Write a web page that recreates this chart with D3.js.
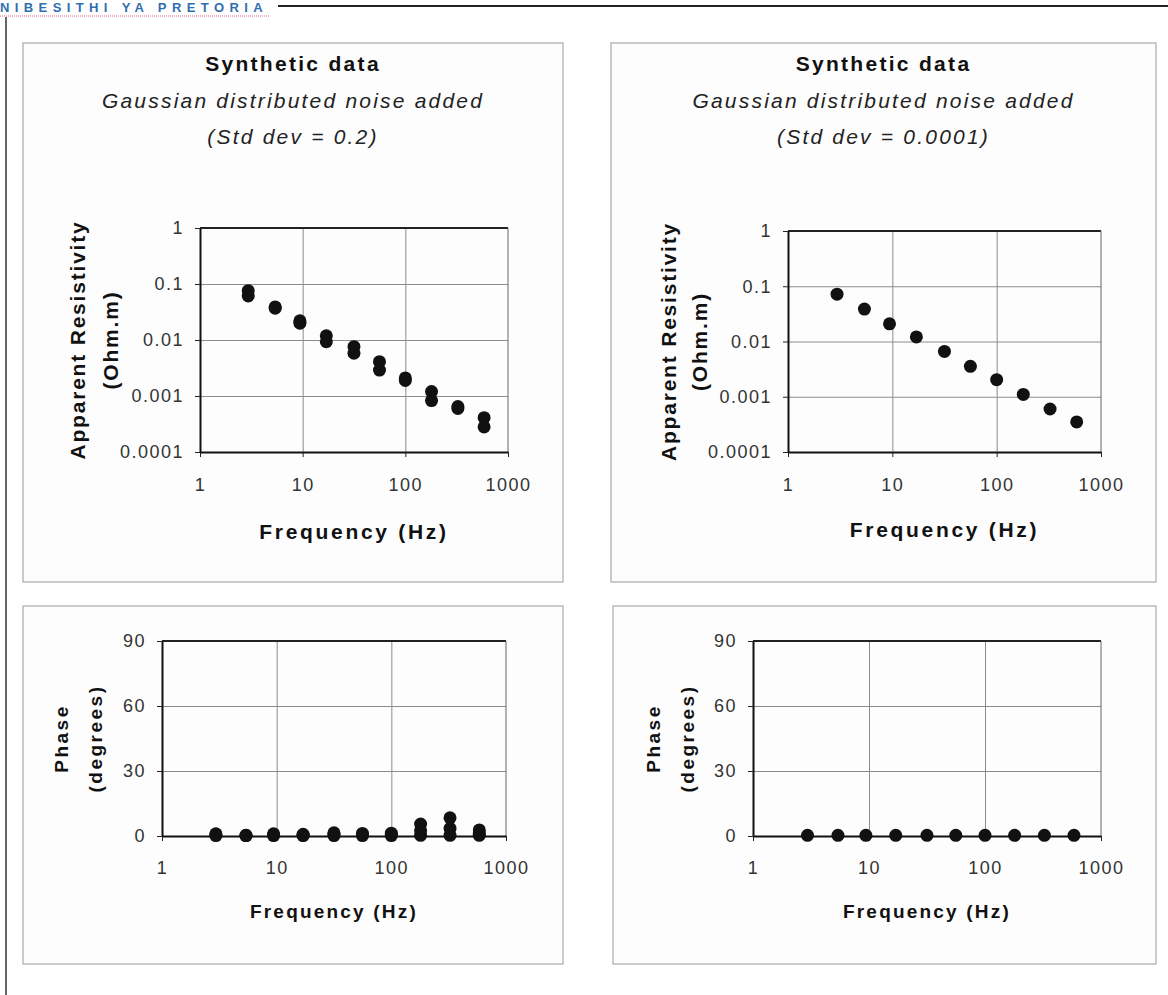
<!DOCTYPE html>
<html>
<head>
<meta charset="utf-8">
<script src="https://cdn.jsdelivr.net/npm/d3@7"></script>
<style>
  body { margin: 0; background: #fff; }
  svg { display: block; font-family: "Liberation Sans", Arial, sans-serif; }
</style>
</head>
<body>
<script>
// frequencies (Hz) of the synthetic soundings
var freqs = [2.95, 5.4, 9.4, 17, 31.6, 56, 100, 180, 325, 585];

// apparent resistivity, noisy case (two realisations visible as elongated dots)
var rhoNoisyA = [0.076, 0.039, 0.022, 0.0119, 0.0076, 0.0041, 0.0021, 0.0012, 0.00065, 0.00041];
var rhoNoisyB = [0.061, 0.037, 0.020, 0.0093, 0.0058, 0.0029, 0.0019, 0.00083, 0.0006, 0.00028];
// apparent resistivity, nearly noise free case
var rhoClean = [0.072, 0.0386, 0.0209, 0.0121, 0.0066, 0.00356, 0.00204, 0.0011, 0.0006, 0.00035];

// phase (degrees), noisy case
var phaseNoisyA = [1.0, 0.3, 1.0, 0.8, 1.5, 1.2, 1.3, 5.5, 8.4, 2.8];
var phaseNoisyB = [0.2, 0.2, 0.2, 0.2, 0.2, 0.2, 0.2, 0.3, 0.3, 0.3];
var phaseNoisyC = [0.6, 0.2, 0.5, 0.4, 0.8, 0.6, 0.7, 2.5, 3.5, 1.2];
// phase, nearly noise free case
var phaseClean = [0.3, 0.3, 0.3, 0.3, 0.3, 0.3, 0.3, 0.3, 0.3, 0.3];

// ticks
var xTicks = [1, 10, 100, 1000];
var xTickLabels = ["1", "10", "100", "1000"];
var rhoTicks = [1, 0.1, 0.01, 0.001, 0.0001];
var rhoTickLabels = ["1", "0.1", "0.01", "0.001", "0.0001"];
var phaseTicks = [0, 30, 60, 90];
var phaseTickLabels = ["0", "30", "60", "90"];

var W = 1168, H = 995;

var svg = d3.select("body")
            .append("svg")
            .attr("width", W)
            .attr("height", H);

// page header (scanned thesis page)
svg.append("text")
   .attr("x", 0)
   .attr("y", 12)
   .style("font-size", "13px")
   .style("font-weight", "bold")
   .style("letter-spacing", "5.4px")
   .style("fill", "#2f6fb0")
   .text("NIBESITHI YA PRETORIA");

svg.append("line")
   .attr("x1", 0).attr("x2", 270)
   .attr("y1", 16).attr("y2", 16)
   .style("stroke", "#e0607a")
   .style("stroke-width", 1)
   .style("stroke-dasharray", "1,1");

svg.append("line")
   .attr("x1", 278).attr("x2", W)
   .attr("y1", 6).attr("y2", 6)
   .style("stroke", "#222")
   .style("stroke-width", 2);

svg.append("line")
   .attr("x1", 6).attr("x2", 6)
   .attr("y1", 17).attr("y2", H)
   .style("stroke", "#333")
   .style("stroke-width", 1.5);

/**
* Draws one chart panel: frame, optional titles, grid, axes, labels and dots.
**/
function drawPanel(cfg) {
	var g = svg.append("g");
	var p = cfg.plot;

	// panel frame
	g.append("rect")
	 .attr("x", cfg.box.x)
	 .attr("y", cfg.box.y)
	 .attr("width", cfg.box.w)
	 .attr("height", cfg.box.h)
	 .style("fill", "#fdfdfd")
	 .style("stroke", "#aaa")
	 .style("stroke-width", 1.2);

	// titles
	var cx = cfg.box.x + cfg.box.w / 2;
	if (cfg.titles) {
		g.append("text")
		 .attr("x", cx).attr("y", cfg.box.y + 28)
		 .style("text-anchor", "middle")
		 .style("font-size", "21px")
		 .style("font-weight", "bold")
		 .style("letter-spacing", "2.3px")
		 .style("fill", "#111")
		 .text(cfg.titles[0]);
		g.append("text")
		 .attr("x", cx).attr("y", cfg.box.y + 65)
		 .style("text-anchor", "middle")
		 .style("font-size", "21px")
		 .style("font-style", "italic")
		 .style("letter-spacing", "2.2px")
		 .style("fill", "#222")
		 .text(cfg.titles[1]);
		g.append("text")
		 .attr("x", cx).attr("y", cfg.box.y + 101)
		 .style("text-anchor", "middle")
		 .style("font-size", "21px")
		 .style("font-style", "italic")
		 .style("letter-spacing", "2.2px")
		 .style("fill", "#222")
		 .text(cfg.titles[2]);
	}

	// scales
	var x = d3.scaleLog().domain([1, 1000]).range([p.x, p.x + p.w]);
	var y;
	if (cfg.log) {
		y = d3.scaleLog().domain([0.0001, 1]).range([p.y + p.h, p.y]);
	} else {
		y = d3.scaleLinear().domain([0, 90]).range([p.y + p.h, p.y]);
	}

	// gridlines
	var gx = g.append("g")
	          .attr("transform", "translate(0," + (p.y + p.h) + ")")
	          .call(d3.axisBottom(x).tickValues(xTicks.slice(1, -1)).tickSize(-p.h).tickFormat(""));
	var gy = g.append("g")
	          .attr("transform", "translate(" + p.x + ",0)")
	          .call(d3.axisLeft(y).tickValues(cfg.yTicks.slice(1, -1)).tickSize(-p.w).tickFormat(""));
	[gx, gy].forEach(function(a) {
		a.select(".domain").remove();
		a.selectAll("line").style("stroke", "#8c8c8c").style("stroke-width", 1);
	});

	// plot area top and right border
	g.append("line")
	 .attr("x1", p.x).attr("x2", p.x + p.w)
	 .attr("y1", p.y).attr("y2", p.y)
	 .style("stroke", "#222").style("stroke-width", 2);
	g.append("line")
	 .attr("x1", p.x + p.w).attr("x2", p.x + p.w)
	 .attr("y1", p.y).attr("y2", p.y + p.h)
	 .style("stroke", "#666").style("stroke-width", 1);

	// axes
	var xAxis = g.append("g")
	             .attr("transform", "translate(0," + (p.y + p.h) + ")")
	             .call(d3.axisBottom(x).tickValues(xTicks).tickSize(5).tickSizeOuter(0)
	                     .tickPadding(cfg.xPad)
	                     .tickFormat(function(d, i) { return xTickLabels[i]; }));
	var yAxis = g.append("g")
	             .attr("transform", "translate(" + p.x + ",0)")
	             .call(d3.axisLeft(y).tickValues(cfg.yTicks).tickSize(5).tickSizeOuter(0)
	                     .tickPadding(11)
	                     .tickFormat(function(d, i) { return cfg.yTickLabels[i]; }));
	[xAxis, yAxis].forEach(function(a) {
		a.attr("font-size", null).attr("font-family", null);
		a.select(".domain").style("stroke", "#111").style("stroke-width", 2);
		a.selectAll("line").style("stroke", "#222").style("stroke-width", 1);
		a.selectAll("text")
		 .style("font-size", "18px")
		 .style("letter-spacing", "1.5px")
		 .style("fill", "#333");
	});

	// x axis label
	g.append("text")
	 .attr("x", p.x + p.w / 2)
	 .attr("y", p.y + p.h + cfg.xLabelOff)
	 .style("text-anchor", "middle")
	 .style("font-size", cfg.labelSize + "px")
	 .style("font-weight", "bold")
	 .style("letter-spacing", cfg.labelSpacing + "px")
	 .style("fill", "#111")
	 .text("Frequency (Hz)");

	// y axis label, two lines
	var cy = p.y + p.h / 2;
	cfg.yLabel.forEach(function(t, i) {
		g.append("text")
		 .attr("transform", "translate(" + (p.x - cfg.yLabelOff[i]) + "," + cy + ") rotate(-90)")
		 .attr("dy", "0.35em")
		 .style("text-anchor", "middle")
		 .style("font-size", cfg.labelSize + "px")
		 .style("font-weight", "bold")
		 .style("letter-spacing", cfg.yLabelSpacing + "px")
		 .style("fill", "#111")
		 .text(t);
	});

	// datapoints
	cfg.series.forEach(function(vals) {
		g.selectAll(null)
		 .data(vals)
		 .enter()
		 .append("circle")
		 .attr("cx", function(d, i) { return x(freqs[i]); })
		 .attr("cy", function(d) { return y(d); })
		 .attr("r", 6.5)
		 .style("fill", "#111");
	});
}

// top left: resistivity, std dev 0.2
drawPanel({
	box: {x: 23, y: 43, w: 540, h: 539},
	plot: {x: 200, y: 228, w: 308, h: 224},
	titles: ["Synthetic data", "Gaussian distributed noise added", "(Std dev = 0.2)"],
	log: true,
	yTicks: rhoTicks, yTickLabels: rhoTickLabels,
	yLabel: ["Apparent Resistivity", "(Ohm.m)"], yLabelOff: [122, 89],
	xPad: 21, xLabelOff: 87, labelSize: 21, labelSpacing: 2.7, yLabelSpacing: 1.8,
	series: [rhoNoisyA, rhoNoisyB]
});

// top right: resistivity, std dev 0.0001
drawPanel({
	box: {x: 611, y: 43, w: 545, h: 539},
	plot: {x: 788, y: 231, w: 313, h: 221},
	titles: ["Synthetic data", "Gaussian distributed noise added", "(Std dev = 0.0001)"],
	log: true,
	yTicks: rhoTicks, yTickLabels: rhoTickLabels,
	yLabel: ["Apparent Resistivity", "(Ohm.m)"], yLabelOff: [119, 88],
	xPad: 21, xLabelOff: 85, labelSize: 21, labelSpacing: 2.7, yLabelSpacing: 1.8,
	series: [rhoClean]
});

// bottom left: phase, noisy
drawPanel({
	box: {x: 23, y: 606, w: 540, h: 358},
	plot: {x: 162, y: 641, w: 344, h: 195},
	titles: null,
	log: false,
	yTicks: phaseTicks, yTickLabels: phaseTickLabels,
	yLabel: ["Phase", "(degrees)"], yLabelOff: [101, 67],
	xPad: 20, xLabelOff: 82, labelSize: 19, labelSpacing: 2.2, yLabelSpacing: 2.5,
	series: [phaseNoisyB, phaseNoisyC, phaseNoisyA]
});

// bottom right: phase, clean
drawPanel({
	box: {x: 613, y: 606, w: 543, h: 358},
	plot: {x: 753, y: 641, w: 348, h: 195},
	titles: null,
	log: false,
	yTicks: phaseTicks, yTickLabels: phaseTickLabels,
	yLabel: ["Phase", "(degrees)"], yLabelOff: [100, 66],
	xPad: 20, xLabelOff: 82, labelSize: 19, labelSpacing: 2.2, yLabelSpacing: 2.5,
	series: [phaseClean]
});
</script>
</body>
</html>
